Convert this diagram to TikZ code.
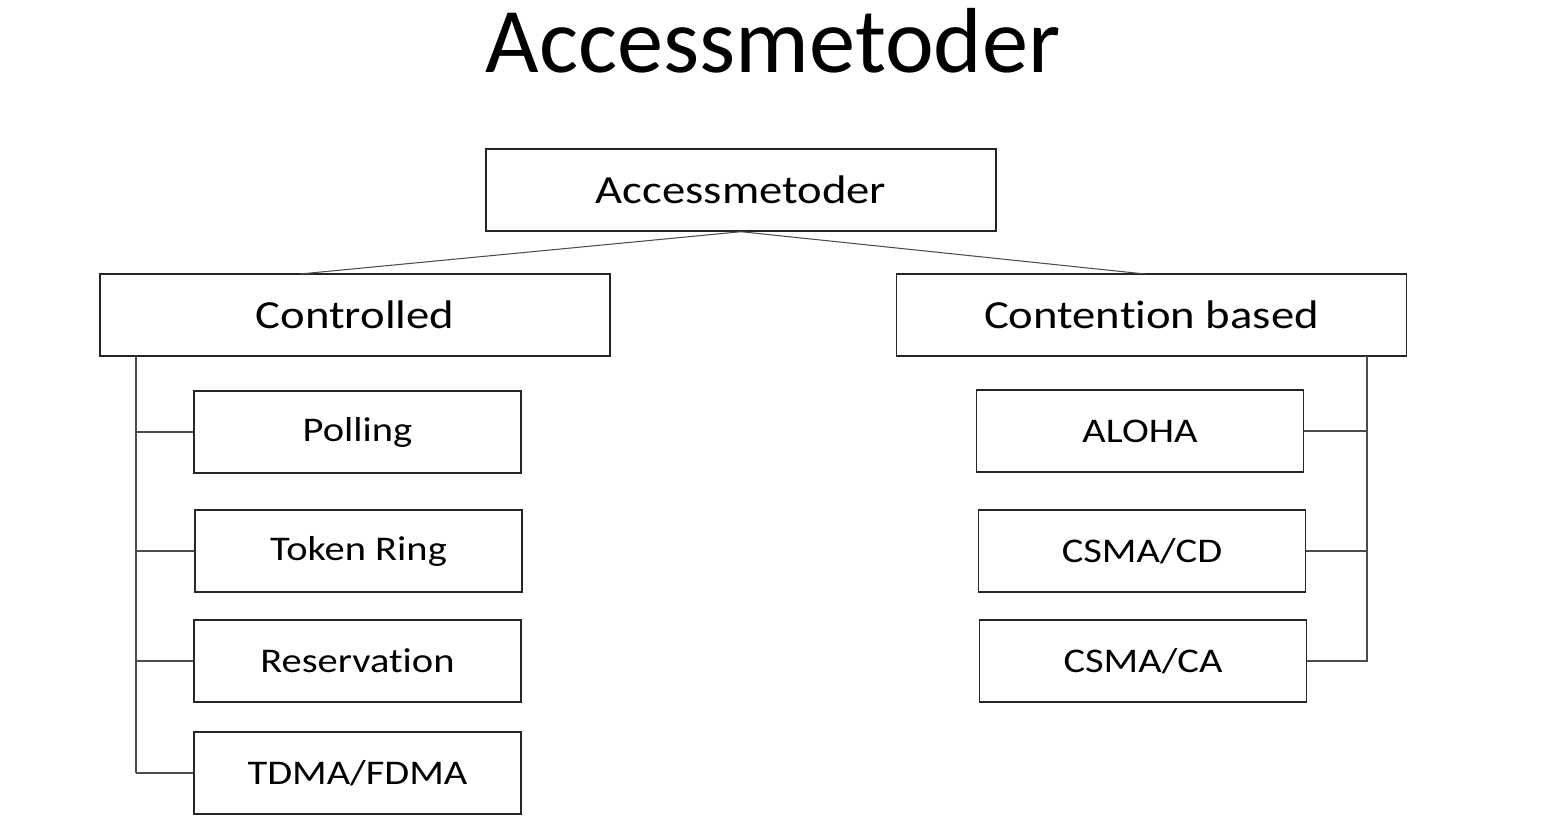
\documentclass[tikz,border=0pt]{standalone}
\usepackage{fontspec}
\setmainfont[Ligatures=NoCommon]{Carlito}
\newfontfamily\boxfont[FakeStretch=1.17,Ligatures=NoCommon]{Carlito}
\begin{document}
\begin{tikzpicture}[x=0.02cm,y=-0.02cm,
  bx/.style={draw=black!85, line width=0.8pt, inner sep=0pt, text=black},
  wide/.style={bx, minimum width=10.2cm, minimum height=1.64cm, font=\boxfont\fontsize{22.7}{26}\selectfont},
  small/.style={bx, minimum width=6.54cm, minimum height=1.64cm, font=\boxfont\fontsize{19.7}{23}\selectfont},
  conn/.style={draw=black!70, line width=0.6pt}]
\useasboundingbox (0,0) rectangle (1552,828);
\node[font=\fontsize{52.6}{62}\selectfont] (title) at (773,41) {Accessmetoder};
\node[wide] (root) at (741,190) {Accessmetoder};
\node[wide] (ctrl) at (355,315) {Controlled};
\node[wide] (cont) at (1151.5,315) {Contention based};
\node[small] (poll) at (357.5,432) {Polling};
\node[small] (tok) at (358.5,551) {Token Ring};
\node[small] (res) at (357.5,661) {Reservation};
\node[small] (tdma) at (357.5,773) {TDMA/FDMA};
\node[small] (aloha) at (1140,431) {ALOHA};
\node[small] (cd) at (1142,551) {CSMA/CD};
\node[small] (ca) at (1143,661) {CSMA/CA};
\coordinate (lt) at (300,274);
\coordinate (rt) at (1145,274);
\draw[conn] (root.south) -- (lt);
\draw[conn] (root.south) -- (rt);
\coordinate (lv0) at (136,356);
\coordinate (lv1) at (136,773);
\draw[conn] (lv0) -- (lv1);
\draw[conn] (poll.west) -- (poll.west -| lv0);
\draw[conn] (tok.west) -- (tok.west -| lv0);
\draw[conn] (res.west) -- (res.west -| lv0);
\draw[conn] (tdma.west) -- (tdma.west -| lv0);
\coordinate (rv0) at (1367,356);
\coordinate (rv1) at (1367,662);
\draw[conn] (rv0) -- (rv1);
\draw[conn] (aloha.east) -- (aloha.east -| rv0);
\draw[conn] (cd.east) -- (cd.east -| rv0);
\draw[conn] (ca.east) -- (ca.east -| rv0);
\end{tikzpicture}
\end{document}
